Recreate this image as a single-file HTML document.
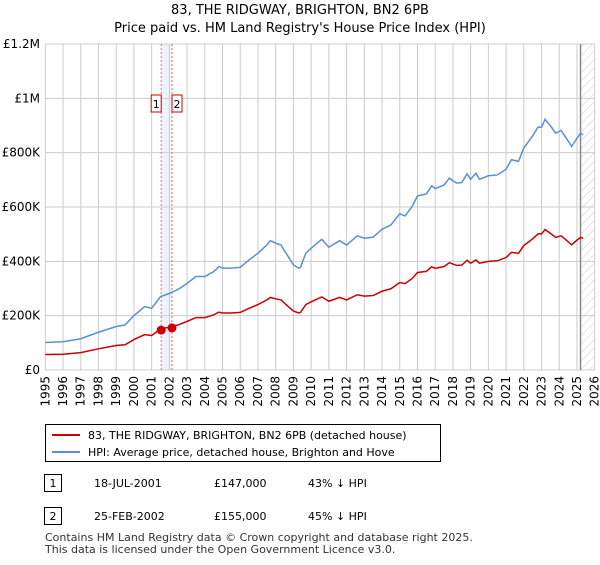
<!DOCTYPE html>
<html><head><meta charset="utf-8"><style>
body{margin:0;background:#fff;font-family:"Liberation Sans","DejaVu Sans",sans-serif;}
svg text{font-family:"DejaVu Sans","Liberation Sans",sans-serif;}
</style></head><body>
<svg id="chart" width="600" height="560" xmlns="http://www.w3.org/2000/svg">
<defs><pattern id="hatch" width="6" height="6" patternUnits="userSpaceOnUse" patternTransform="rotate(45)"><line x1="0" y1="0" x2="0" y2="6" stroke="#ccc" stroke-width="1"/></pattern></defs>
<text x="300" y="14" text-anchor="middle" font-size="13">83, THE RIDGWAY, BRIGHTON, BN2 6PB</text>
<text x="300" y="32" text-anchor="middle" font-size="13">Price paid vs. HM Land Registry's House Price Index (HPI)</text>
<g id="grid"></g><g id="marks"></g>
<rect x="45.5" y="424.5" width="395" height="37" fill="#fff" stroke="#000"/>
<line x1="52" y1="435" x2="80" y2="435" stroke="#c00" stroke-width="2"/>
<text x="88" y="439" font-size="11">83, THE RIDGWAY, BRIGHTON, BN2 6PB (detached house)</text>
<line x1="52" y1="452" x2="80" y2="452" stroke="#5b8ed6" stroke-width="2"/>
<text x="88" y="456" font-size="11">HPI: Average price, detached house, Brighton and Hove</text>
<rect x="44.5" y="474.5" width="17" height="17" fill="#fff" stroke="#000"/>
<text x="53" y="487" text-anchor="middle" font-size="11">1</text>
<text x="94" y="487" font-size="11">18-JUL-2001</text>
<text x="214" y="487" font-size="11">£147,000</text>
<text x="308" y="487" font-size="11">43% ↓ HPI</text>
<rect x="44.5" y="507.5" width="17" height="17" fill="#fff" stroke="#000"/>
<text x="53" y="520" text-anchor="middle" font-size="11">2</text>
<text x="94" y="520" font-size="11">25-FEB-2002</text>
<text x="214" y="520" font-size="11">£155,000</text>
<text x="308" y="520" font-size="11">45% ↓ HPI</text>
<text x="45" y="541" font-size="11" fill="#333">Contains HM Land Registry data © Crown copyright and database right 2025.</text>
<text x="45" y="553" font-size="11" fill="#333">This data is licensed under the Open Government Licence v3.0.</text>
</svg>
<script>
const years=[1995,1996,1997,1998,1999,1999.5,2000,2000.6,2001,2001.5,2002,2002.5,2003,2003.5,2004,2004.5,2004.8,2005,2005.5,2006,2006.5,2007,2007.5,2007.7,2008,2008.3,2008.7,2009,2009.3,2009.4,2009.7,2010,2010.6,2011,2011.6,2012,2012.6,2013,2013.5,2014,2014.5,2015,2015.3,2015.7,2016,2016.5,2016.8,2017,2017.5,2017.8,2018.2,2018.5,2018.8,2019,2019.3,2019.5,2020,2020.5,2021,2021.3,2021.7,2022,2022.5,2022.8,2023,2023.2,2023.5,2023.8,2024.1,2024.4,2024.7,2025,2025.2,2025.35];
const hpiValues=[101,104,115,139,160,166,200,233,227,270,282,297,319,344,344,362,381,375,375,378,405,430,460,476,467,460,418,387,375,378,430,448,481,452,476,460,494,485,489,518,534,575,567,602,641,648,678,668,681,706,688,690,722,702,724,702,715,718,739,774,768,817,862,894,894,923,899,872,882,853,823,853,872,866];
const propValues=[57,58,64,78,90,93,112,130,127,151,158,166,179,193,193,203,213,210,210,212,227,241,258,267,262,258,234,217,210,212,241,251,269,253,267,258,277,272,274,290,299,322,318,337,359,363,380,374,381,395,385,386,404,393,405,393,400,402,414,433,430,458,483,501,501,517,503,488,494,478,461,478,488,485];
const saleYears=[2001.54,2002.15];
const salePrices=[147,155];
const saleLabels=["1","2"];
const yTicks=[0,200,400,600,800,1000,1200];
const yTickLabels=["£0","£200K","£400K","£600K","£800K","£1M","£1.2M"];
const xTicks=[1995,1996,1997,1998,1999,2000,2001,2002,2003,2004,2005,2006,2007,2008,2009,2010,2011,2012,2013,2014,2015,2016,2017,2018,2019,2020,2021,2022,2023,2024,2025,2026];
const dataEnd=2025.2;
const X0=45.3,X1=594.7,Y0=370,Y1=44;
const x=v=>X0+(v-1995)/(2026-1995)*(X1-X0);
const y=v=>Y0-v/1200*(Y0-Y1);
const NS="http://www.w3.org/2000/svg";
function mk(tag,attrs,parent){const e=document.createElementNS(NS,tag);for(const k in attrs)e.setAttribute(k,attrs[k]);parent.appendChild(e);return e;}
const g=document.getElementById('grid'),m=document.getElementById('marks');
let r=mk('rect',{x:x(saleYears[0]),y:Y1,width:x(saleYears[1])-x(saleYears[0]),height:Y0-Y1,fill:'#eef3fb'},g);


xTicks.forEach(t=>{
 let l=mk('line',{x1:x(t),x2:x(t),y1:Y1,y2:Y0,stroke:'#ccc'},g);
 
 
 const tx=x(t)+4,ty=376;
 let tt=mk('text',{x:tx,y:ty,transform:`rotate(-90 ${tx} ${ty})`,'text-anchor':'end','font-size':'12'},g);
 tt.textContent=t;
 
 
});
yTicks.forEach((t,i)=>{
 let l=mk('line',{x1:X0,x2:X1,y1:y(t),y2:y(t),stroke:'#ccc'},g);
 
 
 let tt=mk('text',{x:40,y:y(t)+4,'text-anchor':'end','font-size':'12'},g);
 tt.textContent=yTickLabels[i];
 
 
});
let h=mk('rect',{x:x(dataEnd),y:Y1,width:X1-x(dataEnd),height:Y0-Y1,fill:'url(#hatch)'},g);


let dl=mk('line',{x1:x(dataEnd),x2:x(dataEnd),y1:Y1,y2:Y0,stroke:'#888','stroke-width':1.5},g);


saleYears.forEach((s,i)=>{
 let l=mk('line',{x1:x(s),x2:x(s),y1:Y1,y2:Y0,stroke:'#f66','stroke-dasharray':'2,2'},m);
 
 
});
let hp=mk('polyline',{points:years.map((t,i)=>x(t)+','+y(hpiValues[i])).join(' '),fill:'none',stroke:'#5b8ed6','stroke-width':1.5},m);


let pp=mk('polyline',{points:years.map((t,i)=>x(t)+','+y(propValues[i])).join(' '),fill:'none',stroke:'#c00','stroke-width':1.5},m);


saleYears.forEach((s,i)=>{
 let c=mk('circle',{cx:x(s),cy:y(salePrices[i]),r:4.5,fill:'#c00'},m);
 
 
 const bx=i===0?x(s)-10:x(s);
 let b=mk('rect',{x:bx,y:95,width:10,height:17,fill:'#fff',stroke:'#c00'},m);
 
 
 let tt=mk('text',{x:bx+5,y:108,'text-anchor':'middle','font-size':'11'},m);
 tt.textContent=saleLabels[i];
 
 
});
</script>
</body></html>
